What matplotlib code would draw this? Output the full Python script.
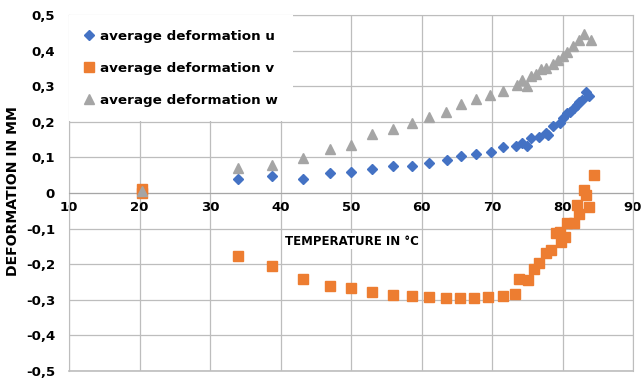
import numpy as np
import matplotlib.pyplot as plt
from matplotlib.ticker import FuncFormatter

# readings: temperature in C, deformation in mm
temp_u = [20.3, 34.0, 38.8, 43.2, 47.0, 50.0, 53.0, 56.0, 58.6, 61.1, 63.6, 65.6, 67.8, 69.8,
          71.6, 73.4, 74.2, 74.9, 75.6, 76.7, 77.7, 77.9, 78.7, 79.6, 80.1, 80.6, 81.0, 81.6,
          82.0, 82.4, 82.7, 83.4, 83.8]
def_u = [0.0, 0.038, 0.048, 0.038, 0.055, 0.058, 0.068, 0.077, 0.077, 0.084, 0.093, 0.104, 0.11, 0.115,
         0.13, 0.132, 0.14, 0.132, 0.155, 0.157, 0.168, 0.163, 0.188, 0.197, 0.21, 0.225, 0.228, 0.24,
         0.247, 0.255, 0.26, 0.284, 0.272]

temp_v = [20.3, 20.3, 34.0, 38.8, 43.2, 47.0, 50.0, 53.0, 56.0, 58.6, 61.0, 63.5, 65.5, 67.5,
          69.5, 71.5, 73.2, 73.9, 75.1, 76.0, 76.6, 77.7, 78.4, 79.1, 79.6, 79.8, 80.3, 80.7,
          81.7, 82.0, 82.3, 83.1, 83.4, 83.7, 84.4]
def_v = [0.012, 0.0, -0.178, -0.206, -0.241, -0.26, -0.267, -0.278, -0.286, -0.29, -0.293, -0.296, -0.296, -0.294,
         -0.292, -0.289, -0.285, -0.241, -0.244, -0.213, -0.197, -0.168, -0.16, -0.112, -0.11, -0.138, -0.124, -0.085,
         -0.085, -0.034, -0.06, 0.008, -0.005, -0.038, 0.05]

temp_w = [20.3, 34.0, 38.8, 43.2, 47.0, 50.0, 53.0, 56.0, 58.6, 61.1, 63.5, 65.6, 67.8, 69.7,
          71.6, 73.6, 74.2, 74.9, 75.6, 76.3, 77.0, 77.7, 78.6, 79.4, 80.1, 80.7, 81.5, 82.3,
          83.1, 84.1]
def_w = [0.005, 0.07, 0.078, 0.098, 0.123, 0.135, 0.165, 0.18, 0.198, 0.213, 0.228, 0.25, 0.264, 0.275,
         0.287, 0.303, 0.317, 0.30, 0.329, 0.334, 0.348, 0.35, 0.362, 0.374, 0.385, 0.396, 0.413, 0.43,
         0.447, 0.43]

fig = plt.figure(figsize=(6.41, 3.81), dpi=100)
ax = fig.add_axes([69/641, 1 - 371/381, (633 - 69)/641, (371 - 15)/381])

ax.plot(temp_u, def_u, 'D', color='#4472C4', ms=5, mec='#4472C4', label='average deformation u', zorder=3)
ax.plot(temp_v, def_v, 's', color='#ED7D31', ms=7, mec='#ED7D31', label='average deformation v', zorder=3)
ax.plot(temp_w, def_w, '^', color='#A5A5A5', ms=7, mec='#A5A5A5', label='average deformation w', zorder=3)

ax.set_xlim(10, 90)
ax.set_ylim(-0.5, 0.5)
ax.set_xticks(np.arange(10, 91, 10))
ax.set_yticks(np.arange(-0.5, 0.51, 0.1))
ax.yaxis.set_major_formatter(FuncFormatter(lambda v, p: '0' if abs(v) < 1e-9 else f'{v:.1f}'.replace('.', ',')))
ax.grid(True, color='#bdbdbd', lw=0.9)
ax.set_axisbelow(True)

# x labels sit on the zero line, like Excel
ax.spines['bottom'].set_position(('data', 0))
ax.spines['bottom'].set_color('#a6a6a6')
for s in ['top', 'right', 'left']:
    ax.spines[s].set_color('#bdbdbd')
ax.axhline(-0.5, color='#bdbdbd', lw=1.2, clip_on=False)
ax.tick_params(length=0, labelsize=9.5)
ax.tick_params(axis='y', pad=10)
ax.tick_params(axis='x', pad=6)
for lab in ax.get_xticklabels() + ax.get_yticklabels():
    lab.set_fontweight('bold')

ax.text(50.1, -0.135, 'TEMPERATURE IN °C', ha='center', va='center', fontsize=8.5, fontweight='bold',
        bbox=dict(facecolor='white', edgecolor='none', pad=1))
fig.text(0.02, 1 - 191/381, 'DEFORMATION IN MM', rotation=90, ha='center', va='center',
         fontsize=10.1, fontweight='bold')

leg = ax.legend(loc='upper left', bbox_to_anchor=(0.0, 1.0), frameon=True, facecolor='white',
                edgecolor='none', framealpha=1, prop={'weight': 'bold', 'size': 9.7},
                handlelength=0.8, handletextpad=0.4, labelspacing=1.4,
                borderaxespad=0, borderpad=1.1)
leg.get_frame().set_boxstyle('square', pad=0)

fig.savefig('out.png', dpi=100)
